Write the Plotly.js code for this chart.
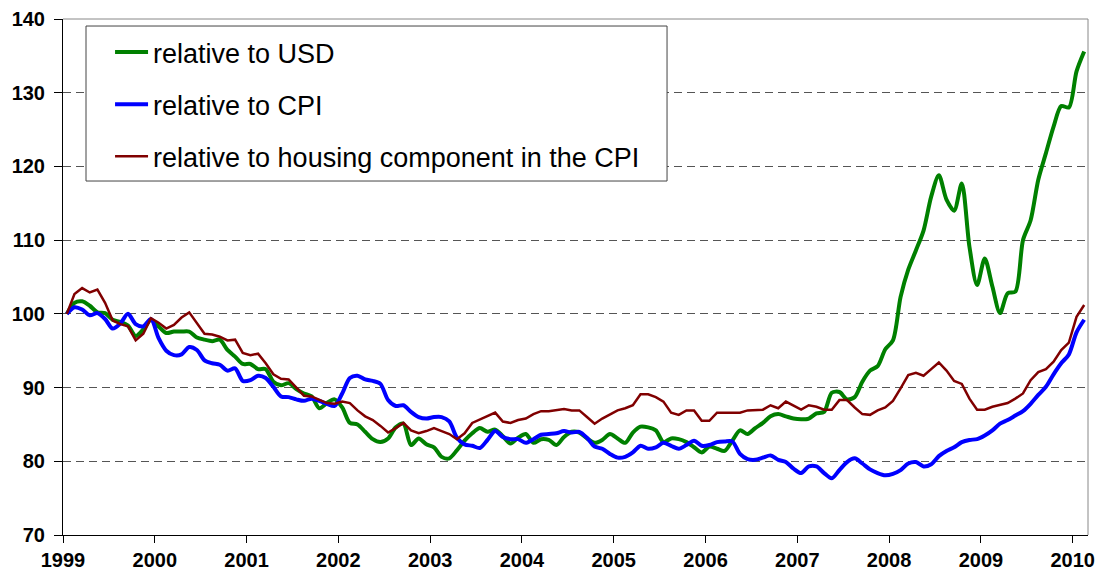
<!DOCTYPE html>
<html>
<head>
<meta charset="utf-8">
<script src="https://cdn.plot.ly/plotly-3.0.1.min.js"></script>
<style>html,body{margin:0;padding:0;background:#fff;}#chart{width:1100px;height:573px;}</style>
</head>
<body>
<div id="chart"></div>
<script>
// Monthly index values, Jan 1999 .. Feb 2010 (1999 = 100)
const startYear = 1999;
const yearTicks = [1999, 2000, 2001, 2002, 2003, 2004, 2005, 2006, 2007, 2008, 2009, 2010];
const seriesNames = ["relative to USD", "relative to CPI", "relative to housing component in the CPI"];

const relUSD = [
  100, 101.5, 101.7, 101.1, 100.2, 100.1, 99.2, 98.9, 98.4, 97.0, 97.9, 99.2,
  98.3, 97.4, 97.6, 97.6, 97.6, 96.8, 96.5, 96.3, 96.5, 95.1, 94.2, 93.2,
  93.2, 92.5, 92.5, 90.8, 90.3, 90.6, 89.8, 89.2, 88.8, 87.2, 87.9, 88.4,
  87.3, 85.2, 85.0, 84.0, 83.0, 82.6, 83.1, 84.6, 85.1, 82.2, 83.1, 82.3,
  81.9, 80.6, 80.4, 81.5, 82.8, 83.8, 84.5, 84.0, 84.3, 83.4, 82.4, 83.2,
  83.7, 82.5, 83.0, 82.9, 82.2, 83.3, 84.0, 83.9, 83.1, 82.5, 82.9, 83.7,
  83.1, 82.5, 83.9, 84.7, 84.6, 84.2, 82.6, 83.1, 83.0, 82.6, 81.9, 81.2,
  82.0, 81.7, 81.4, 82.8, 84.2, 83.7, 84.5, 85.2, 86.1, 86.4, 86.1, 85.8,
  85.7, 85.8, 86.5, 86.7, 89.3, 89.4, 88.4, 88.7, 90.8, 92.3, 92.9, 95.2,
  96.4, 102.3, 106.0, 108.6, 111.3, 115.9, 118.8, 115.5, 114.0, 117.7, 109.1, 103.9,
  107.5, 103.7, 100.1, 102.8, 103.0, 110.0, 112.7, 118.2, 121.8, 125.4, 128.2, 128.0,
  132.9, 135.6
];

const relCPI = [
  100, 100.9, 100.6, 99.8, 100.1, 99.3, 98.0, 98.7, 100.0, 98.6, 98.3, 99.3,
  96.7, 95.0, 94.4, 94.5, 95.5, 95.1, 93.7, 93.3, 93.1, 92.3, 92.6, 90.9,
  91.0, 91.6, 91.3, 90.1, 88.8, 88.7, 88.4, 88.2, 88.5, 88.2, 87.8, 87.5,
  89.2, 91.3, 91.6, 91.1, 90.9, 90.5, 88.3, 87.5, 87.6, 86.7, 86.0, 85.8,
  86.0, 86.0, 85.4, 83.2, 82.3, 82.1, 81.8, 82.9, 84.1, 83.3, 83.0, 83.0,
  82.5, 83.0, 83.6, 83.7, 83.8, 84.1, 83.9, 84.0, 83.2, 82.0, 81.7, 81.0,
  80.5, 80.6, 81.2, 82.1, 81.7, 81.9, 82.5, 82.1, 81.7, 82.2, 82.8, 82.1,
  82.2, 82.6, 82.7, 82.7, 81.0, 80.3, 80.2, 80.5, 80.8, 80.2, 79.9, 79.0,
  78.4, 79.3, 79.3, 78.4, 77.7, 78.8, 79.9, 80.4, 79.7, 78.9, 78.4, 78.1,
  78.3, 78.8, 79.7, 79.9, 79.3, 79.6, 80.7, 81.4, 81.9, 82.6, 82.9, 83.0,
  83.5, 84.2, 85.1, 85.6, 86.2, 86.8, 87.8, 89.0, 90.1, 91.8, 93.3, 94.5,
  97.5, 99.2
];

const relHousing = [
  100, 102.7, 103.5, 102.9, 103.3, 101.5, 99.1, 98.6, 98.3, 96.4, 97.3, 99.4,
  98.8, 98.0, 98.5, 99.5, 100.2, 98.7, 97.3, 97.2, 96.9, 96.4, 96.5, 94.7,
  94.4, 94.6, 93.3, 91.8, 91.2, 91.1, 90.0, 88.9, 88.8, 88.4, 87.9, 87.8,
  88.1, 87.9, 86.9, 86.1, 85.6, 84.8, 83.9, 84.5, 85.2, 84.2, 83.8, 84.1,
  84.5, 84.1, 83.7, 83.0, 83.8, 85.2, 85.7, 86.1, 86.6, 85.4, 85.2, 85.6,
  85.8, 86.4, 86.8, 86.8, 86.9, 87.1, 86.9, 86.9, 86.0, 85.1, 85.8, 86.4,
  86.9, 87.2, 87.6, 89.1, 89.1, 88.7, 88.1, 86.6, 86.3, 86.9, 86.9, 85.5,
  85.5, 86.6, 86.6, 86.6, 86.6, 86.9, 86.9, 87.0, 87.6, 87.2, 88.1, 87.5,
  87.0, 87.6, 87.4, 87.0, 87.0, 88.3, 88.3, 87.3, 86.4, 86.3, 86.9, 87.3,
  88.2, 89.9, 91.7, 92.0, 91.6, 92.5, 93.4, 92.3, 90.9, 90.5, 88.5, 87.0,
  87.0, 87.4, 87.6, 87.9, 88.5, 89.2, 91.0, 92.1, 92.5, 93.5, 95.1, 96.1,
  99.6, 101.2
];

// mid-month positions on a decimal-year axis
const months = relUSD.map((_, i) => startYear + (i + 0.5) / 12);

const colors = ["#008000", "#0000FF", "#800000"];
const traces = [
  {x: months, y: relUSD, name: seriesNames[0], type: "scatter", mode: "lines",
   line: {color: colors[0], width: 4, shape: "spline", smoothing: 0.8}, legendgroup: "a"},
  {x: months, y: relCPI, name: seriesNames[1], type: "scatter", mode: "lines",
   line: {color: colors[1], width: 4, shape: "spline", smoothing: 0.8}, legendgroup: "b"},
  {x: months, y: relHousing, name: seriesNames[2], type: "scatter", mode: "lines",
   line: {color: colors[2], width: 2.5}, legendgroup: "c"}
];

const tickFont = {family: "Arial, 'Liberation Sans', sans-serif", size: 20, color: "#000", weight: "bold"};
const xRange = [startYear, 2010 + 2 / 12];

const layout = {
  width: 1100, height: 573,
  margin: {l: 63, r: 12, t: 19, b: 38},
  paper_bgcolor: "#fff", plot_bgcolor: "#fff",
  showlegend: true,
  xaxis: {
    range: xRange, tickmode: "array", tickvals: yearTicks, ticktext: yearTicks.map(String),
    ticks: "outside", ticklen: 7, tickcolor: "#000", tickwidth: 1,
    showline: true, linecolor: "#000", linewidth: 1, showgrid: false, zeroline: false,
    tickfont: tickFont, fixedrange: true
  },
  xaxis2: {
    overlaying: "x", anchor: "y", side: "bottom", range: xRange,
    tickmode: "array", tickvals: yearTicks, ticks: "inside", ticklen: 7, tickcolor: "#000",
    showticklabels: false, showline: false, showgrid: false, zeroline: false
  },
  yaxis: {
    range: [70, 140], tick0: 70, dtick: 10,
    ticks: "outside", ticklen: 8, tickcolor: "#000", tickwidth: 1,
    showline: true, linecolor: "#000", linewidth: 1,
    showgrid: true, gridcolor: "#555", gridwidth: 1, griddash: "8px,5px",
    zeroline: false, tickfont: tickFont, ticklabelstandoff: 5, fixedrange: true
  },
  legend: {
    x: 0.0459, y: 0.9826, xanchor: "left", yanchor: "top",
    bgcolor: "rgba(0,0,0,0)", borderwidth: 0,
    font: {family: "Arial, 'Liberation Sans', sans-serif", size: 27, color: "#000"},
    traceorder: "grouped", tracegroupgap: 14, itemwidth: 33
  },
  shapes: [
    {type: "line", xref: "paper", yref: "paper", x0: 0, x1: 1, y0: 1, y1: 1, line: {color: "#888", width: 1}},
    {type: "line", xref: "paper", yref: "paper", x0: 1, x1: 1, y0: 0, y1: 1, line: {color: "#888", width: 1}},
    {type: "rect", xref: "paper", yref: "paper", x0: 0.02244, x1: 0.5893, y0: 0.686, y1: 0.9864,
     fillcolor: "#fff", line: {color: "#444", width: 1}, layer: "above"}
  ]
};

Plotly.newPlot("chart", traces, layout, {displayModeBar: false, staticPlot: true});
</script>
</body>
</html>
